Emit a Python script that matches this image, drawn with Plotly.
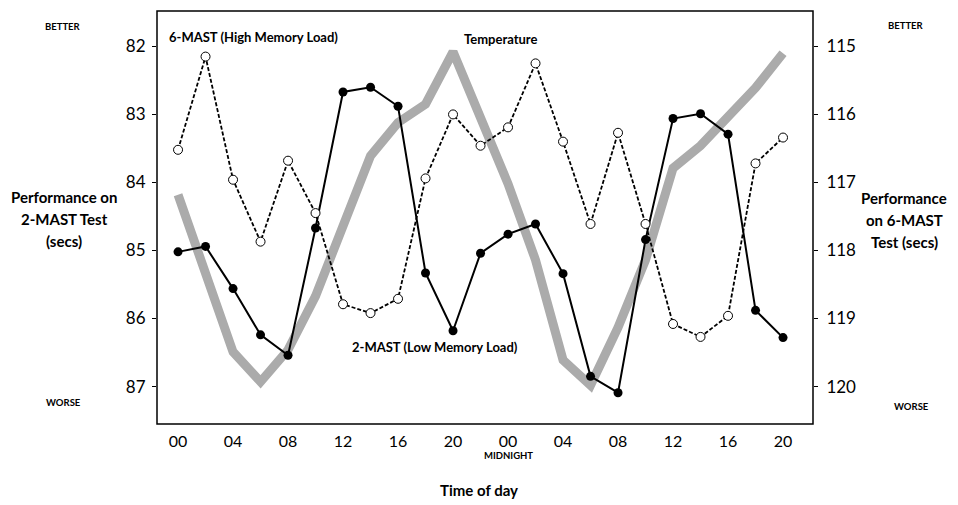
import plotly.graph_objects as go

# ---- data ----
hours = list(range(0, 46, 2))  # two days, every 2 hours

# 2-MAST (Low Memory Load), left axis, secs
two_mast = [85.02, 84.94, 85.56, 86.24, 86.54, 84.67, 82.67, 82.60, 82.88, 85.33, 86.18, 85.04,
            84.76, 84.61, 85.34, 86.85, 87.09, 84.84, 83.06, 82.99, 83.29, 85.88, 86.28]

# 6-MAST (High Memory Load), right axis, secs
six_mast = [116.52, 115.15, 116.96, 117.87, 116.68, 117.45, 118.79, 118.92, 118.71, 116.94, 116.00, 116.46,
            116.19, 115.25, 116.40, 117.61, 116.27, 117.61, 119.08, 119.27, 118.96, 116.72, 116.34]

# Temperature (no scale shown; expressed in left-axis units)
temperature = [84.18, 85.33, 86.49, 86.93, 86.46, 85.67, 84.68, 83.61, 83.12, 82.85, 82.08, 83.05,
               84.02, 85.14, 86.61, 86.98, 86.13, 85.14, 83.79, 83.46, 83.04, 82.61, 82.10]

x_tick_vals = [0, 4, 8, 12, 16, 20, 24, 28, 32, 36, 40, 44]
x_tick_text = ["00", "04", "08", "12", "16", "20", "00", "04", "08", "12", "16", "20"]
left_ticks = [82, 83, 84, 85, 86, 87]
right_ticks = [115, 116, 117, 118, 119, 120]

FONT = "Lato"

fig = go.Figure()

fig.add_trace(go.Scatter(
    x=hours, y=temperature, mode="lines", name="Temperature",
    line=dict(color="#ababab", width=9), yaxis="y", showlegend=False, hoverinfo="skip"))

fig.add_trace(go.Scatter(
    x=hours, y=six_mast, mode="lines+markers", name="6-MAST (High Memory Load)",
    line=dict(color="black", width=1.8, dash="4px,2px"),
    marker=dict(symbol="circle", size=9, color="white", line=dict(color="black", width=1)),
    yaxis="y2", showlegend=False))

fig.add_trace(go.Scatter(
    x=hours, y=two_mast, mode="lines+markers", name="2-MAST (Low Memory Load)",
    line=dict(color="black", width=2),
    marker=dict(symbol="circle", size=9, color="black"),
    yaxis="y", showlegend=False))

# page body has an 8px margin: the figure is drawn 8px right/down in the window
OFF = 8
W, H = 958 - OFF, 505 - OFF
L, R, T, B = 157 - OFF, 813 - OFF, 11 - OFF, 424 - OFF
pw, ph = R - L, B - T


def px(xs):
    return (xs - OFF - L) / pw


def py(ys):
    return (B - (ys - OFF)) / ph


annotations = []


def note(text, x, y, size, bold=True, xanchor="center", xref="paper", yref="paper"):
    annotations.append(dict(
        text=("<b>%s</b>" % text) if bold else text, x=x, y=y, xref=xref, yref=yref,
        xanchor=xanchor, yanchor="middle", showarrow=False,
        font=dict(family=FONT, size=size, color="black")))


# series labels (data coordinates)
note("6-MAST (High Memory Load)", -0.8, 81.86, 13, xanchor="left", xref="x", yref="y")
note("Temperature", 20.65, 81.89, 13, xanchor="left", xref="x", yref="y")
note("2-MAST (Low Memory Load)", 12.5, 86.42, 13, xanchor="left", xref="x", yref="y")

# better / worse
note("BETTER", px(63), py(27), 9.5)
note("WORSE", px(63), py(402), 9.5)
note("BETTER", px(906), py(25), 9.5)
note("WORSE", px(911), py(406), 9.5)

# axis titles
for i, t in enumerate(["Performance on", "2-MAST Test", "(secs)"]):
    note(t, px(64), py(197 + 22 * i), 15)
for i, t in enumerate(["Performance", "on 6-MAST", "Test (secs)"]):
    note(t, px(904), py(198 + 22 * i), 15)

note("MIDNIGHT", px(508), py(456), 9.5)
note("Time of day", px(479), py(490), 15)

fig.update_layout(
    width=W, height=H,
    margin=dict(l=L, r=W - R, t=T, b=H - B, pad=0),
    paper_bgcolor="white", plot_bgcolor="white",
    font=dict(family=FONT, color="black"),
    xaxis=dict(range=[-1.53, 46.18], tickvals=x_tick_vals, ticktext=x_tick_text,
               showgrid=False, zeroline=False, showline=False, ticks="",
               ticklabelstandoff=6,
               tickfont=dict(family=FONT, size=16, color="black")),
    yaxis=dict(range=[87.55, 81.48], tickvals=left_ticks, showgrid=False, zeroline=False,
               showline=False, ticks="outside", ticklen=4, tickcolor="black",
               ticklabelstandoff=3,
               tickfont=dict(family=FONT, size=17, color="black")),
    yaxis2=dict(range=[120.55, 114.48], tickvals=right_ticks, overlaying="y", side="right",
                showgrid=False, zeroline=False, showline=False, ticks="outside", ticklen=4,
                tickcolor="black", ticklabelstandoff=5,
                tickfont=dict(family=FONT, size=17, color="black")),
    annotations=annotations,
    shapes=[dict(type="rect", xref="paper", yref="paper", x0=0, x1=1, y0=0, y1=1,
                 line=dict(color="black", width=1.5), layer="above")],
)

fig.write_html("out.html")
